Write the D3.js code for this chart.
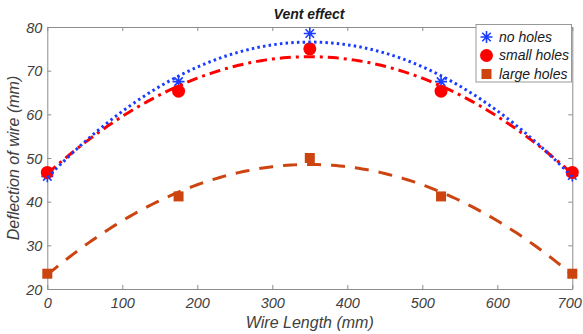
<!DOCTYPE html>
<html><head><meta charset="utf-8">
<script src="https://cdn.jsdelivr.net/npm/d3@7"></script>
<style>
body{margin:0;background:#fff;}
svg text{font-family:"Liberation Sans",Arial,sans-serif;font-style:italic;}
</style></head>
<body><svg id="c" width="583" height="334"></svg>
<script>
const wireLength = [0, 175, 350, 525, 700];
const noHoles = [45.8, 67.5, 78.5, 67.5, 46.0];
const smallHoles = [46.7, 65.3, 75.0, 65.3, 46.7];
const largeHoles = [23.5, 41.2, 50.0, 41.2, 23.5];
const seriesNames = ["no holes", "small holes", "large holes"];
const xTicks = [0, 100, 200, 300, 400, 500, 600, 700];
const yTicks = [20, 30, 40, 50, 60, 70, 80];

const W = 583, H = 334;
const m = {l: 47.3, r: 572.3, t: 27, b: 289};
const svg = d3.select("#c");
const x = d3.scaleLinear().domain([0, 700]).range([m.l, m.r]);
const y = d3.scaleLinear().domain([20, 80]).range([m.b, m.t]);
const axisCol = "#8c8c8c", txtCol = "#404040";

// quadratic least-squares fit from data
function polyfit2(xs, ys) {
  let S = [[0,0,0],[0,0,0],[0,0,0]], b = [0,0,0];
  xs.forEach((xv, i) => {
    const p = [1, xv, xv*xv];
    for (let r = 0; r < 3; r++) { b[r] += p[r]*ys[i]; for (let c = 0; c < 3; c++) S[r][c] += p[r]*p[c]; }
  });
  const A = S.map((row, i) => row.concat([b[i]]));
  for (let i = 0; i < 3; i++) {
    for (let k = i+1; k < 3; k++) {
      const f = A[k][i]/A[i][i];
      for (let j = i; j < 4; j++) A[k][j] -= f*A[i][j];
    }
  }
  const c = [0,0,0];
  for (let i = 2; i >= 0; i--) {
    let s = A[i][3];
    for (let j = i+1; j < 3; j++) s -= A[i][j]*c[j];
    c[i] = s/A[i][i];
  }
  return xv => c[0] + c[1]*xv + c[2]*xv*xv;
}

// axes
const gx = svg.append("g").attr("transform", `translate(0,${m.b})`)
  .call(d3.axisBottom(x).tickValues(xTicks).tickSizeInner(-4).tickSizeOuter(0).tickPadding(9));
const gxt = svg.append("g").attr("transform", `translate(0,${m.t})`)
  .call(d3.axisTop(x).tickValues(xTicks).tickSizeInner(-4).tickSizeOuter(0).tickFormat(""));
const gy = svg.append("g").attr("transform", `translate(${m.l},0)`)
  .call(d3.axisLeft(y).tickValues(yTicks).tickSizeInner(-4).tickSizeOuter(0).tickPadding(5));
const gyr = svg.append("g").attr("transform", `translate(${m.r},0)`)
  .call(d3.axisRight(y).tickValues(yTicks).tickSizeInner(-4).tickSizeOuter(0).tickFormat(""));
[gx, gxt, gy, gyr].forEach(g => {
  g.select(".domain").attr("stroke", axisCol).attr("stroke-width", 1);
  g.selectAll(".tick line").attr("stroke", axisCol);
  g.selectAll(".tick text").attr("fill", txtCol).attr("font-size", 14.5);
});
gy.selectAll(".tick text").attr("dy", "0.35em");
// keep last x tick label inside the window
gx.selectAll(".tick text").filter(d => d === 700).attr("text-anchor", "end").attr("dx", 9);

// labels
svg.append("text").attr("x", (m.l+m.r)/2).attr("y", 328).attr("text-anchor", "middle")
  .attr("font-size", 16).attr("fill", txtCol).text("Wire Length (mm)");
svg.append("text").attr("transform", `translate(19,${(m.t+m.b)/2}) rotate(-90)`).attr("text-anchor", "middle")
  .attr("font-size", 16).attr("fill", txtCol).text("Deflection of wire (mm)");
svg.append("text").attr("x", 309).attr("y", 19).attr("text-anchor", "middle")
  .attr("font-size", 14).attr("font-weight", "bold").attr("fill", "#1a1a1a").text("Vent effect");

const blue = "#1a3cff", red = "#ff0000", orange = "#cc4410";
const series = [
  {name: seriesNames[0], vals: noHoles, col: blue, dash: "2.5,3.2", sym: "star"},
  {name: seriesNames[1], vals: smallHoles, col: red, dash: "11,5,3,5", sym: "circle"},
  {name: seriesNames[2], vals: largeHoles, col: orange, dash: "14,10", sym: "square"}
];

function drawMarker(g, sym, col, cx, cy) {
  if (sym === "circle") {
    g.append("circle").attr("cx", cx).attr("cy", cy).attr("r", 6.5).attr("fill", col);
  } else if (sym === "square") {
    g.append("rect").attr("x", cx-5).attr("y", cy-5).attr("width", 10).attr("height", 10).attr("fill", col);
  } else {
    const r = 6;
    const p = d3.path();
    for (let k = 0; k < 4; k++) {
      const a = k*Math.PI/4;
      p.moveTo(cx - r*Math.cos(a), cy - r*Math.sin(a));
      p.lineTo(cx + r*Math.cos(a), cy + r*Math.sin(a));
    }
    g.append("path").attr("d", p.toString()).attr("stroke", col).attr("stroke-width", 1.6).attr("fill", "none");
  }
}

const plot = svg.append("g");
series.forEach(s => {
  s.vals.forEach((v, i) => drawMarker(plot, s.sym, s.col, x(wireLength[i]), y(v)));
});
const line = d3.line().x(d => x(d[0])).y(d => y(d[1]));
series.slice().reverse().forEach(s => {
  const f = polyfit2(wireLength, s.vals);
  const pts = d3.range(0, 701, 5).map(xv => [xv, f(xv)]);
  plot.append("path").attr("d", line(pts)).attr("fill", "none").attr("stroke", s.col)
    .attr("stroke-width", 3).attr("stroke-dasharray", s.dash);
});

// legend
const lg = svg.append("g");
lg.append("rect").attr("x", 476).attr("y", 24.5).attr("width", 95.5).attr("height", 57.5)
  .attr("fill", "#fff").attr("stroke", "#999").attr("stroke-width", 1);
series.forEach((s, i) => {
  const cy = 37 + i*18.5;
  drawMarker(lg, s.sym, s.col, 486.5, cy);
  lg.append("text").attr("x", 499).attr("y", cy).attr("dy", "0.35em").attr("font-size", 14)
    .attr("fill", "#1a1a1a").text(s.name);
});
</script></body></html>
